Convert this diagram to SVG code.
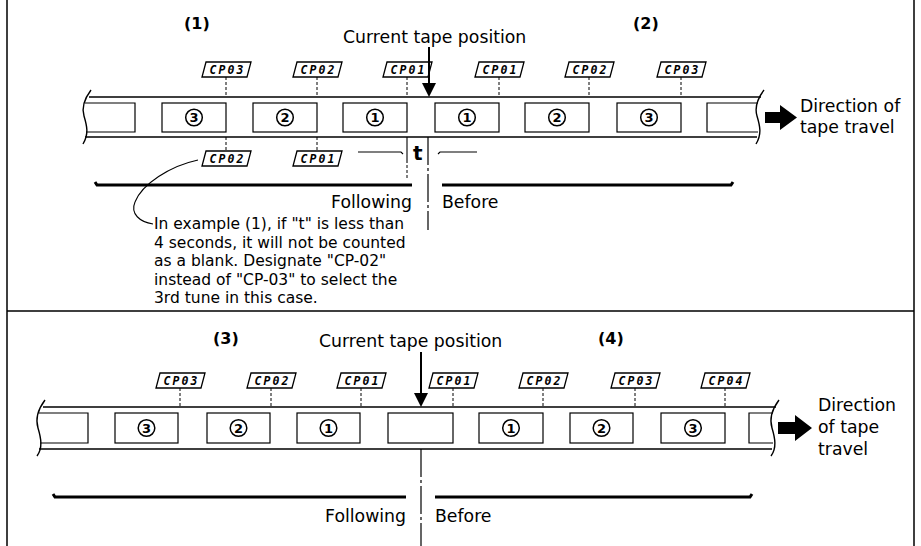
<svg xmlns="http://www.w3.org/2000/svg" width="921" height="546" viewBox="0 0 921 546">
<style>
.frame{stroke:#000;stroke-width:1.5;fill:none}
.tape{stroke:#000;stroke-width:1.4;fill:none}
.box{stroke:#000;stroke-width:1.2;fill:#fff}
.open{stroke:#000;stroke-width:1.2;fill:none}
.num circle{fill:none;stroke:#000;stroke-width:1.5}
.num text{font-family:"DejaVu Sans",sans-serif;font-weight:bold;font-size:13px;text-anchor:middle;fill:#000}
.cp polygon{fill:#fff;stroke:#000;stroke-width:1.3}
.cp text{font-family:"DejaVu Sans Mono",monospace;font-style:italic;font-weight:bold;font-size:11.5px;text-anchor:middle;fill:#000}
.dash{stroke:#000;stroke-width:1;stroke-dasharray:3 2;fill:none}
.lbl{font-family:"DejaVu Sans",sans-serif;font-size:17.3px;fill:#000}
.note{font-family:"DejaVu Sans",sans-serif;font-size:15.5px;fill:#000}
.hd{font-family:"DejaVu Sans",sans-serif;font-size:16px;font-weight:bold;fill:#000}
.thick{stroke:#000;stroke-width:3;fill:none}
.thin{stroke:#000;stroke-width:1.1;fill:none}
.dd{stroke:#000;stroke-width:1.2;stroke-dasharray:28 3 3 3;fill:none}
.shaft{stroke:#000;stroke-width:2;fill:none}
</style>

<g id="frame">
<path class="frame" d="M7 0V546M914 0V546M7 311H914"/>
</g>

<!-- ===== Upper panel ===== -->
<g id="u-heading-1"><text class="hd" x="184" y="29">(1)</text></g>
<g id="u-heading-2"><text class="hd" x="633" y="29">(2)</text></g>
<g id="u-current"><text class="lbl" x="343" y="43">Current tape position</text></g>
<g id="u-direction"><text class="lbl" x="800" y="112">Direction of</text><text class="lbl" x="800" y="133">tape travel</text></g>

<g id="u-tape">
<path class="tape" d="M89 97H761M85 137H757"/>
<path class="tape" d="M91 90C85 98 81 106 84 116C87 126 89 134 83 144"/>
<path class="tape" d="M764 90C758 98 754 106 757 116C760 126 762 134 756 144"/>
</g>
<g id="u-box-left"><path class="open" d="M85 103H135V132H86"/></g>
<g id="u-box-3a"><rect class="box" x="162" y="103" width="64" height="29"/><g class="num"><circle cx="194" cy="117.5" r="8.3"/><text x="194" y="122.2">3</text></g></g>
<g id="u-box-2a"><rect class="box" x="253" y="103" width="64" height="29"/><g class="num"><circle cx="285" cy="117.5" r="8.3"/><text x="285" y="122.2">2</text></g></g>
<g id="u-box-1a"><rect class="box" x="343" y="103" width="64" height="29"/><g class="num"><circle cx="375" cy="117.5" r="8.3"/><text x="375" y="122.2">1</text></g></g>
<g id="u-box-1b"><rect class="box" x="435" y="103" width="64" height="29"/><g class="num"><circle cx="467" cy="117.5" r="8.3"/><text x="467" y="122.2">1</text></g></g>
<g id="u-box-2b"><rect class="box" x="525" y="103" width="64" height="29"/><g class="num"><circle cx="557" cy="117.5" r="8.3"/><text x="557" y="122.2">2</text></g></g>
<g id="u-box-3b"><rect class="box" x="617" y="103" width="64" height="29"/><g class="num"><circle cx="649" cy="117.5" r="8.3"/><text x="649" y="122.2">3</text></g></g>
<g id="u-box-right"><path class="open" d="M758 103H707V132H758"/></g>

<g id="u-cp03a" class="cp" transform="translate(226,62)"><polygon points="-20,0 25,0 21,15 -24,15"/><text x="0.5" y="11.8" textLength="34">CP03</text></g>
<g id="u-cp02a" class="cp" transform="translate(317,62)"><polygon points="-20,0 25,0 21,15 -24,15"/><text x="0.5" y="11.8" textLength="34">CP02</text></g>
<g id="u-cp01a" class="cp" transform="translate(407,62)"><polygon points="-20,0 25,0 21,15 -24,15"/><text x="0.5" y="11.8" textLength="34">CP01</text></g>
<g id="u-cp01b" class="cp" transform="translate(499,62)"><polygon points="-20,0 25,0 21,15 -24,15"/><text x="0.5" y="11.8" textLength="34">CP01</text></g>
<g id="u-cp02b" class="cp" transform="translate(589,62)"><polygon points="-20,0 25,0 21,15 -24,15"/><text x="0.5" y="11.8" textLength="34">CP02</text></g>
<g id="u-cp03b" class="cp" transform="translate(681,62)"><polygon points="-20,0 25,0 21,15 -24,15"/><text x="0.5" y="11.8" textLength="34">CP03</text></g>
<g id="u-cp02-below" class="cp" transform="translate(226,151)"><polygon points="-20,0 25,0 21,15 -24,15"/><text x="0.5" y="11.8" textLength="34">CP02</text></g>
<g id="u-cp01-below" class="cp" transform="translate(317,151)"><polygon points="-20,0 25,0 21,15 -24,15"/><text x="0.5" y="11.8" textLength="34">CP01</text></g>

<g id="u-arrow-dir"><polygon points="765,112 780,112 780,105 797,117.5 780,130 780,123 765,123" fill="#000"/></g>

<g id="u-t"><text x="413" y="160" font-family="DejaVu Sans, sans-serif" font-weight="bold" font-size="20">t</text></g>
<g id="u-following"><text class="lbl" x="412" y="208" text-anchor="end">Following</text></g>
<g id="u-before"><text class="lbl" x="442" y="208">Before</text></g>
<g id="u-note">
<text class="note" x="154" y="229">In example (1), if "t" is less than</text>
<text class="note" x="154" y="247.5">4 seconds, it will not be counted</text>
<text class="note" x="154" y="266">as a blank. Designate "CP-02"</text>
<text class="note" x="154" y="284.5">instead of "CP-03" to select the</text>
<text class="note" x="154" y="303">3rd tune in this case.</text>
</g>

<!-- ===== Lower panel ===== -->
<g id="l-heading-3"><text class="hd" x="213" y="344">(3)</text></g>
<g id="l-heading-4"><text class="hd" x="598" y="344">(4)</text></g>
<g id="l-current"><text class="lbl" x="319" y="347">Current tape position</text></g>
<g id="l-direction"><text class="lbl" x="818" y="411">Direction</text><text class="lbl" x="818" y="433">of tape</text><text class="lbl" x="818" y="455">travel</text></g>

<g id="l-tape">
<path class="tape" d="M43 407H776M39 449H772"/>
<path class="tape" d="M45 400C39 408 35 418 38 428C41 438 43 448 37 456"/>
<path class="tape" d="M779 400C773 408 769 418 772 428C775 438 777 448 771 456"/>
</g>
<g id="l-box-left"><path class="open" d="M39 413H88V443H40"/></g>
<g id="l-box-3a"><rect class="box" x="115" y="413" width="63" height="30"/><g class="num"><circle cx="146.5" cy="428" r="8.3"/><text x="146.5" y="432.7">3</text></g></g>
<g id="l-box-2a"><rect class="box" x="207" y="413" width="63" height="30"/><g class="num"><circle cx="238.5" cy="428" r="8.3"/><text x="238.5" y="432.7">2</text></g></g>
<g id="l-box-1a"><rect class="box" x="297" y="413" width="63" height="30"/><g class="num"><circle cx="328.5" cy="428" r="8.3"/><text x="328.5" y="432.7">1</text></g></g>
<g id="l-box-blank"><rect class="box" x="388" y="413" width="65" height="30"/></g>
<g id="l-box-1b"><rect class="box" x="479" y="413" width="64" height="30"/><g class="num"><circle cx="511" cy="428" r="8.3"/><text x="511" y="432.7">1</text></g></g>
<g id="l-box-2b"><rect class="box" x="570" y="413" width="63" height="30"/><g class="num"><circle cx="601.5" cy="428" r="8.3"/><text x="601.5" y="432.7">2</text></g></g>
<g id="l-box-3b"><rect class="box" x="661" y="413" width="64" height="30"/><g class="num"><circle cx="693" cy="428" r="8.3"/><text x="693" y="432.7">3</text></g></g>
<g id="l-box-right"><path class="open" d="M773 413H749V443H773"/></g>

<g id="l-cp03a" class="cp" transform="translate(180,373)"><polygon points="-20,0 25,0 21,15 -24,15"/><text x="0.5" y="11.8" textLength="34">CP03</text></g>
<g id="l-cp02a" class="cp" transform="translate(271,373)"><polygon points="-20,0 25,0 21,15 -24,15"/><text x="0.5" y="11.8" textLength="34">CP02</text></g>
<g id="l-cp01a" class="cp" transform="translate(361,373)"><polygon points="-20,0 25,0 21,15 -24,15"/><text x="0.5" y="11.8" textLength="34">CP01</text></g>
<g id="l-cp01b" class="cp" transform="translate(453,373)"><polygon points="-20,0 25,0 21,15 -24,15"/><text x="0.5" y="11.8" textLength="34">CP01</text></g>
<g id="l-cp02b" class="cp" transform="translate(543,373)"><polygon points="-20,0 25,0 21,15 -24,15"/><text x="0.5" y="11.8" textLength="34">CP02</text></g>
<g id="l-cp03b" class="cp" transform="translate(635,373)"><polygon points="-20,0 25,0 21,15 -24,15"/><text x="0.5" y="11.8" textLength="34">CP03</text></g>
<g id="l-cp04" class="cp" transform="translate(725,373)"><polygon points="-20,0 25,0 21,15 -24,15"/><text x="0.5" y="11.8" textLength="34">CP04</text></g>

<g id="l-arrow-dir"><polygon points="778,422 795,422 795,415 812,428 795,441 795,434 778,434" fill="#000"/></g>
<g id="l-following"><text class="lbl" x="406" y="522" text-anchor="end">Following</text></g>
<g id="l-before"><text class="lbl" x="435" y="522">Before</text></g>

<!-- ===== Connectors ===== -->
<g id="connectors">
<path class="dash" d="M226 77V97M317 77V97M407 77V97M499 77V97M589 77V97M681 77V97"/>
<path class="dash" d="M226 137V151M317 137V151"/>
<path class="shaft" d="M429 47V85"/><polygon points="422,83 436,83 429,97" fill="#000"/>
<path class="thin" d="M358 152H401L403 154"/>
<path class="thin" d="M407 137V163"/><path class="dash" d="M407 165V178"/>
<path class="dd" d="M428 137V230"/>
<path class="thin" d="M438 154L440 152H477"/>
<path class="thick" d="M95 182L97 185H412M442 185H731L733 182"/>
<path class="thin" d="M198 160C170 166 142 184 135 202C130 214 140 222 153 224"/>

<path class="dash" d="M180 388V407M271 388V407M361 388V407M453 388V407M543 388V407M635 388V407M725 388V407"/>
<path class="shaft" d="M421 352V395"/><polygon points="414,393 428,393 421,407" fill="#000"/>
<path class="dd" d="M421 449V546"/>
<path class="thick" d="M53 494L55 497H406M435 497H750L752 494"/>
</g>
</svg>
